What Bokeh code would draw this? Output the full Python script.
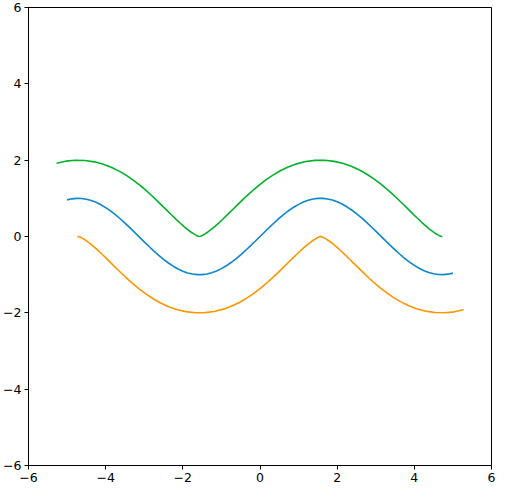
from bokeh.plotting import figure
from bokeh.models import FixedTicker, Range1d
from bokeh.embed import file_html
from bokeh.resources import INLINE

# Blue curve
blue_x = [-5.0, -4.875, -4.75, -4.625, -4.5, -4.375, -4.25, -4.125, -4.0, -3.875, -3.75, -3.625, -3.5, -3.375, -3.25, -3.125,
          -3.0, -2.875, -2.75, -2.625, -2.5, -2.375, -2.25, -2.125, -2.0, -1.875, -1.75, -1.625, -1.5, -1.375, -1.25, -1.125,
          -1.0, -0.875, -0.75, -0.625, -0.5, -0.375, -0.25, -0.125, 0.0,
          0.125, 0.25, 0.375, 0.5, 0.625, 0.75, 0.875, 1.0, 1.125, 1.25, 1.375, 1.5, 1.625, 1.75, 1.875, 2.0,
          2.125, 2.25, 2.375, 2.5, 2.625, 2.75, 2.875, 3.0, 3.125, 3.25, 3.375, 3.5, 3.625, 3.75, 3.875, 4.0,
          4.125, 4.25, 4.375, 4.5, 4.625, 4.75, 4.875, 5.0]
blue_y = [0.959, 0.987, 0.999, 0.996, 0.978, 0.943, 0.895, 0.832, 0.757, 0.669, 0.572, 0.465, 0.351, 0.231, 0.108, -0.017,
          -0.141, -0.263, -0.382, -0.494, -0.599, -0.694, -0.778, -0.850, -0.909, -0.954, -0.984, -0.999, -0.998, -0.981, -0.949, -0.902,
          -0.842, -0.768, -0.682, -0.585, -0.479, -0.366, -0.247, -0.125, 0.0,
          0.125, 0.247, 0.366, 0.479, 0.585, 0.682, 0.768, 0.842, 0.902, 0.949, 0.981, 0.998, 0.999, 0.984, 0.954, 0.909,
          0.850, 0.778, 0.694, 0.599, 0.494, 0.382, 0.263, 0.141, 0.017, -0.108, -0.231, -0.351, -0.465, -0.572, -0.669, -0.757,
          -0.832, -0.895, -0.943, -0.978, -0.996, -0.999, -0.987, -0.959]

# Green curve
green_x = [-5.273, -5.035, -4.788, -4.538, -4.294, -4.060, -3.843, -3.640, -3.453, -3.279, -3.116, -2.962, -2.816, -2.678, -2.545, -2.418,
           -2.297, -2.181, -2.071, -1.969, -1.875, -1.791, -1.718, -1.659, -1.616, -1.588, -1.575, -1.571, -1.571, -1.566, -1.551, -1.521,
           -1.475, -1.415, -1.341, -1.255, -1.160, -1.056, -0.946, -0.829, -0.707,
           -0.579, -0.446, -0.306, -0.160, -0.005, 0.160, 0.335, 0.525, 0.729, 0.949, 1.184, 1.430, 1.679, 1.925, 2.162, 2.384,
           2.591, 2.782, 2.959, 3.125, 3.281, 3.429, 3.569, 3.704, 3.832, 3.955, 4.072, 4.184, 4.288, 4.384, 4.471, 4.547,
           4.610, 4.657, 4.690, 4.706, 4.712, 4.712, 4.715, 4.727]
green_y = [1.921, 1.974, 1.999, 1.992, 1.956, 1.893, 1.808, 1.707, 1.594, 1.472, 1.345, 1.214, 1.081, 0.948, 0.817, 0.691,
           0.570, 0.456, 0.353, 0.261, 0.182, 0.118, 0.069, 0.035, 0.014, 0.004, 0.001, 0.0, 0.0, 0.001, 0.005, 0.016,
           0.038, 0.074, 0.125, 0.192, 0.272, 0.366, 0.471, 0.585, 0.707,
           0.835, 0.966, 1.098, 1.231, 1.362, 1.489, 1.609, 1.721, 1.821, 1.903, 1.963, 1.995, 1.997, 1.969, 1.912, 1.833,
           1.735, 1.625, 1.505, 1.379, 1.248, 1.116, 0.983, 0.852, 0.724, 0.601, 0.485, 0.379, 0.284, 0.201, 0.133, 0.080,
           0.042, 0.018, 0.006, 0.001, 0.0, 0.0, 0.0, 0.003]

# Orange curve
orange_x = [-4.727, -4.715, -4.712, -4.712, -4.706, -4.690, -4.657, -4.610, -4.547, -4.471, -4.384, -4.288, -4.184, -4.072, -3.955, -3.832,
            -3.704, -3.569, -3.429, -3.281, -3.125, -2.959, -2.782, -2.591, -2.384, -2.162, -1.925, -1.679, -1.430, -1.184, -0.949, -0.729,
            -0.525, -0.335, -0.160, 0.005, 0.160, 0.306, 0.446, 0.579, 0.707,
            0.829, 0.946, 1.056, 1.160, 1.255, 1.341, 1.415, 1.475, 1.521, 1.551, 1.566, 1.571, 1.571, 1.575, 1.588, 1.616,
            1.659, 1.718, 1.791, 1.875, 1.969, 2.071, 2.181, 2.297, 2.418, 2.545, 2.678, 2.816, 2.962, 3.116, 3.279, 3.453,
            3.640, 3.843, 4.060, 4.294, 4.538, 4.788, 5.035, 5.273]
orange_y = [-0.003, -0.0, 0.0, 0.0, -0.001, -0.006, -0.018, -0.042, -0.080, -0.133, -0.201, -0.284, -0.379, -0.485, -0.601, -0.724,
            -0.852, -0.983, -1.116, -1.248, -1.379, -1.505, -1.625, -1.735, -1.833, -1.912, -1.969, -1.997, -1.995, -1.963, -1.903, -1.821,
            -1.721, -1.609, -1.489, -1.362, -1.231, -1.098, -0.966, -0.835, -0.707,
            -0.585, -0.471, -0.366, -0.272, -0.192, -0.125, -0.074, -0.038, -0.016, -0.005, -0.001, 0.0, 0.0, -0.001, -0.004, -0.014,
            -0.035, -0.069, -0.118, -0.182, -0.261, -0.353, -0.456, -0.570, -0.691, -0.817, -0.948, -1.081, -1.214, -1.345, -1.472, -1.594,
            -1.707, -1.808, -1.893, -1.956, -1.992, -1.999, -1.974, -1.921]

ticks = [-6, -4, -2, 0, 2, 4, 6]
tick_labels = ["\u22126", "\u22124", "\u22122", "0", "2", "4", "6"]

p = figure(frame_width=463, frame_height=458, output_backend="svg", toolbar_location=None,
           x_range=Range1d(-6, 6), y_range=Range1d(-6, 6),
           min_border_top=7, min_border_right=5, min_border_left=10, min_border_bottom=10)
p.background_fill_color = "white"
p.border_fill_color = "white"
p.outline_line_color = "black"
p.outline_line_width = 1
p.xgrid.visible = False
p.ygrid.visible = False

for ax in (p.xaxis[0], p.yaxis[0]):
    ax.ticker = FixedTicker(ticks=ticks)
    ax.major_label_overrides = {t: l for t, l in zip(ticks, tick_labels)}
    ax.minor_tick_line_color = None
    ax.major_tick_out = 4
    ax.major_tick_in = 0
    ax.major_label_standoff = 3
    ax.major_label_text_font = "DejaVu Sans"
    ax.major_label_text_font_size = "12.5px"
    ax.major_label_text_color = "black"
    ax.axis_line_color = "black"
    ax.major_tick_line_color = "black"

p.line(blue_x, blue_y, line_color="#0a88cc", line_width=1.6)
p.line(green_x, green_y, line_color="#00b32c", line_width=1.6)
p.line(orange_x, orange_y, line_color="#ff9500", line_width=1.6)

open("out.html", "w").write(file_html(p, INLINE))
